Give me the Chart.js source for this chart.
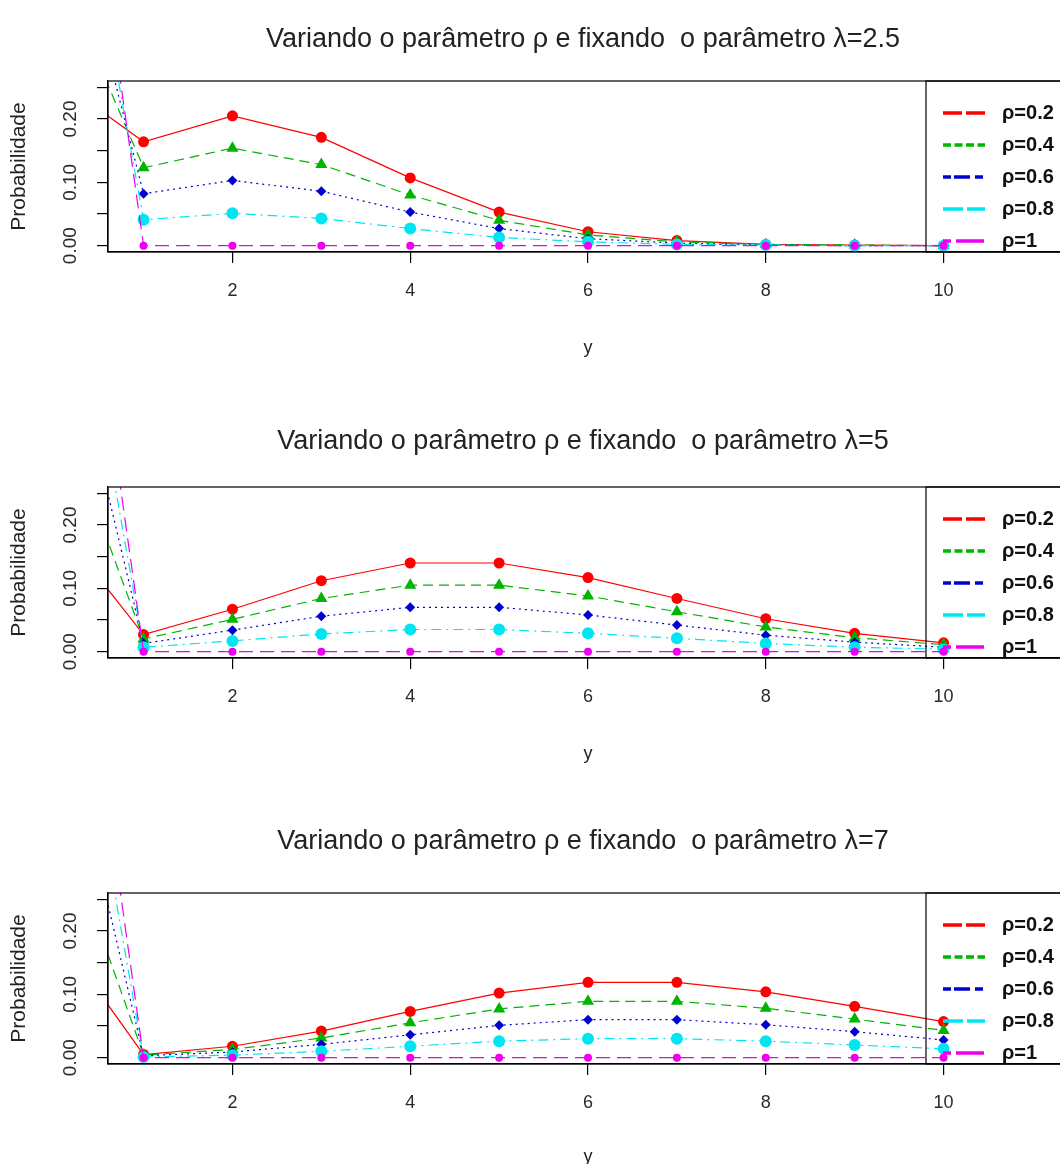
<!DOCTYPE html>
<html>
<head>
<meta charset="utf-8">
<script src="https://cdn.jsdelivr.net/npm/chart.js@4.4.1/dist/chart.umd.min.js"></script>
<style>
  html, body { margin: 0; padding: 0; background: #fff; overflow: hidden; }
  body { width: 1060px; height: 1164px; position: relative; }
  .panel { position: absolute; left: 0; width: 1080px; height: 406px; }
  .panel canvas { display: block; }
</style>
</head>
<body>
<div class="panel" style="top:0px"><canvas id="c1" width="1080" height="406"></canvas></div>
<div class="panel" style="top:406px"><canvas id="c2" width="1080" height="406"></canvas></div>
<div class="panel" style="top:812px"><canvas id="c3" width="1080" height="406"></canvas></div>
<script>
// valores de y (contagens)
const yValues = [0, 1, 2, 3, 4, 5, 6, 7, 8, 9, 10];
const rhoLabels = ["ρ=0.2", "ρ=0.4", "ρ=0.6", "ρ=0.8", "ρ=1"];
const lambdaLabels = ["2.5", "5", "7"];
const xTicks = [2, 4, 6, 8, 10];
const yTicks = [0, 0.05, 0.10, 0.15, 0.20, 0.25];
const yTickLabels = ["0.00", "0.10", "0.20"];
const yTickLabelValues = [0, 0.10, 0.20];

// lambda = 2.5
const lam25_rho02 = [0.266, 0.164, 0.205, 0.171, 0.107, 0.053, 0.022, 0.008, 0.002, 0.001, 0.000];
const lam25_rho04 = [0.449, 0.123, 0.154, 0.128, 0.080, 0.040, 0.017, 0.006, 0.002, 0.001, 0.000];
const lam25_rho06 = [0.633, 0.082, 0.103, 0.086, 0.053, 0.027, 0.011, 0.004, 0.001, 0.000, 0.000];
const lam25_rho08 = [0.816, 0.041, 0.051, 0.043, 0.027, 0.013, 0.006, 0.002, 0.001, 0.000, 0.000];
const lam25_rho1  = [1.000, 0.000, 0.000, 0.000, 0.000, 0.000, 0.000, 0.000, 0.000, 0.000, 0.000];

// lambda = 5
const lam5_rho02 = [0.205, 0.027, 0.067, 0.112, 0.140, 0.140, 0.117, 0.084, 0.052, 0.029, 0.014];
const lam5_rho04 = [0.404, 0.020, 0.051, 0.084, 0.105, 0.105, 0.088, 0.063, 0.039, 0.022, 0.011];
const lam5_rho06 = [0.603, 0.013, 0.034, 0.056, 0.070, 0.070, 0.058, 0.042, 0.026, 0.015, 0.007];
const lam5_rho08 = [0.801, 0.007, 0.017, 0.028, 0.035, 0.035, 0.029, 0.021, 0.013, 0.007, 0.004];
const lam5_rho1  = [1.000, 0.000, 0.000, 0.000, 0.000, 0.000, 0.000, 0.000, 0.000, 0.000, 0.000];

// lambda = 7
const lam7_rho02 = [0.201, 0.005, 0.018, 0.042, 0.073, 0.102, 0.119, 0.119, 0.104, 0.081, 0.057];
const lam7_rho04 = [0.401, 0.004, 0.013, 0.031, 0.055, 0.077, 0.089, 0.089, 0.078, 0.061, 0.043];
const lam7_rho06 = [0.600, 0.003, 0.009, 0.021, 0.036, 0.051, 0.060, 0.060, 0.052, 0.041, 0.028];
const lam7_rho08 = [0.800, 0.001, 0.004, 0.010, 0.018, 0.026, 0.030, 0.030, 0.026, 0.020, 0.014];
const lam7_rho1  = [1.000, 0.000, 0.000, 0.000, 0.000, 0.000, 0.000, 0.000, 0.000, 0.000, 0.000];

const seriesByPanel = [
  [lam25_rho02, lam25_rho04, lam25_rho06, lam25_rho08, lam25_rho1],
  [lam5_rho02, lam5_rho04, lam5_rho06, lam5_rho08, lam5_rho1],
  [lam7_rho02, lam7_rho04, lam7_rho06, lam7_rho08, lam7_rho1]
];

// estilos (tipo R)
const colors = ["#ff0000", "#00b400", "#0000d0", "#00e6f0", "#ee00ee"];
const lineDash = [[], [10, 6], [2, 4], [2, 5, 10, 5], [14, 7]];
const pointStyles = ["circle", "triangle", "rectRot", "circle", "circle"];
const pointRadius = [5.5, 7, 5, 6, 4];
const legendDash = [[19, 4], [8, 3.5], [8, 3, 16, 5], [20, 4], [8, 5, 28, 5]];
const titleY = [40, 36, 30];
const xTitlePad = [47, 47, 50];

const FONT = "'Liberation Sans', Arial, sans-serif";

const framePlugin = {
  id: 'frame',
  afterDatasetsDraw(chart) {
    const a = chart.chartArea, ctx = chart.ctx;
    ctx.save();
    ctx.strokeStyle = '#000';
    ctx.lineWidth = 1.2;
    ctx.strokeRect(a.left, a.top, a.right - a.left, a.bottom - a.top);
    ctx.restore();
  }
};

const yLabelPlugin = {
  id: 'yLabels',
  afterDraw(chart) {
    const ctx = chart.ctx, sy = chart.scales.y;
    ctx.save();
    ctx.fillStyle = '#2a2a2a';
    ctx.font = "19px " + FONT;
    ctx.textAlign = 'center';
    ctx.textBaseline = 'middle';
    yTickLabelValues.forEach((v, i) => {
      ctx.save();
      ctx.translate(71, sy.getPixelForValue(v));
      ctx.rotate(-Math.PI / 2);
      ctx.fillText(yTickLabels[i], 0, 0);
      ctx.restore();
    });
    ctx.restore();
  }
};

const titlePlugin = {
  id: 'panelTitle',
  afterDraw(chart, args, opts) {
    const ctx = chart.ctx;
    ctx.save();
    ctx.fillStyle = '#222';
    ctx.font = "27px " + FONT;
    ctx.textAlign = 'center';
    ctx.textBaseline = 'middle';
    ctx.fillText(opts.text, 583, opts.y);
    ctx.restore();
  }
};

const legendPlugin = {
  id: 'rLegend',
  afterDraw(chart) {
    const ctx = chart.ctx, a = chart.chartArea;
    const left = 926;
    ctx.save();
    ctx.strokeStyle = '#000';
    ctx.lineWidth = 1.2;
    ctx.strokeRect(left, a.top, a.right - left, a.bottom - a.top);
    rhoLabels.forEach((lab, i) => {
      const y = a.top + 32 + i * 32;
      ctx.strokeStyle = colors[i];
      ctx.lineWidth = 3.5;
      ctx.setLineDash(legendDash[i]);
      ctx.beginPath();
      ctx.moveTo(943, y);
      ctx.lineTo(985, y);
      ctx.stroke();
      ctx.setLineDash([]);
      ctx.fillStyle = '#111';
      ctx.font = "bold 20px " + FONT;
      ctx.textAlign = 'left';
      ctx.textBaseline = 'middle';
      ctx.fillText(lab, 1002, y);
    });
    ctx.restore();
  }
};

function makeChart(id, p) {
  const datasets = seriesByPanel[p].map((vals, i) => ({
    label: rhoLabels[i],
    data: yValues.map((x, k) => ({ x: x, y: vals[k] })),
    borderColor: colors[i],
    borderWidth: 1.2,
    borderDash: lineDash[i],
    pointStyle: pointStyles[i],
    pointRadius: pointRadius[i],
    pointBackgroundColor: colors[i],
    pointBorderColor: colors[i],
    pointBorderWidth: 0,
    fill: false,
    tension: 0,
    order: 4 - i
  }));

  return new Chart(document.getElementById(id), {
    type: 'line',
    data: { datasets: datasets },
    options: {
      responsive: false,
      animation: false,
      layout: { padding: { top: 81, right: 12, left: 0, bottom: 0 } },
      plugins: {
        legend: { display: false },
        tooltip: { enabled: false },
        panelTitle: { text: "Variando o parâmetro ρ e fixando  o parâmetro λ=" + lambdaLabels[p], y: titleY[p] }
      },
      scales: {
        x: {
          type: 'linear',
          min: 0.6,
          max: 11.4,
          afterBuildTicks: s => { s.ticks = xTicks.map(v => ({ value: v })); },
          afterFit: s => { s.height = 154; },
          ticks: { font: { size: 18, family: FONT }, color: '#2a2a2a', padding: 17, maxRotation: 0 },
          grid: { drawOnChartArea: false, tickLength: 11, color: '#000', lineWidth: 1.2 },
          border: { color: '#000', width: 1.2 },
          title: { display: true, text: 'y', color: '#222', font: { size: 18, family: FONT }, padding: { top: 0, bottom: xTitlePad[p] } }
        },
        y: {
          type: 'linear',
          min: -0.01,
          max: 0.26,
          afterBuildTicks: s => { s.ticks = yTicks.map(v => ({ value: v })); },
          afterFit: s => { s.width = 108; },
          ticks: { display: false },
          grid: { drawOnChartArea: false, tickLength: 11, color: '#000', lineWidth: 1.2 },
          border: { color: '#000', width: 1.2 },
          title: { display: true, text: 'Probabilidade', color: '#222', font: { size: 21, family: FONT }, padding: { top: 7, bottom: 0 } }
        }
      }
    },
    plugins: [framePlugin, yLabelPlugin, titlePlugin, legendPlugin]
  });
}

makeChart('c1', 0);
makeChart('c2', 1);
makeChart('c3', 2);
</script>
</body>
</html>
